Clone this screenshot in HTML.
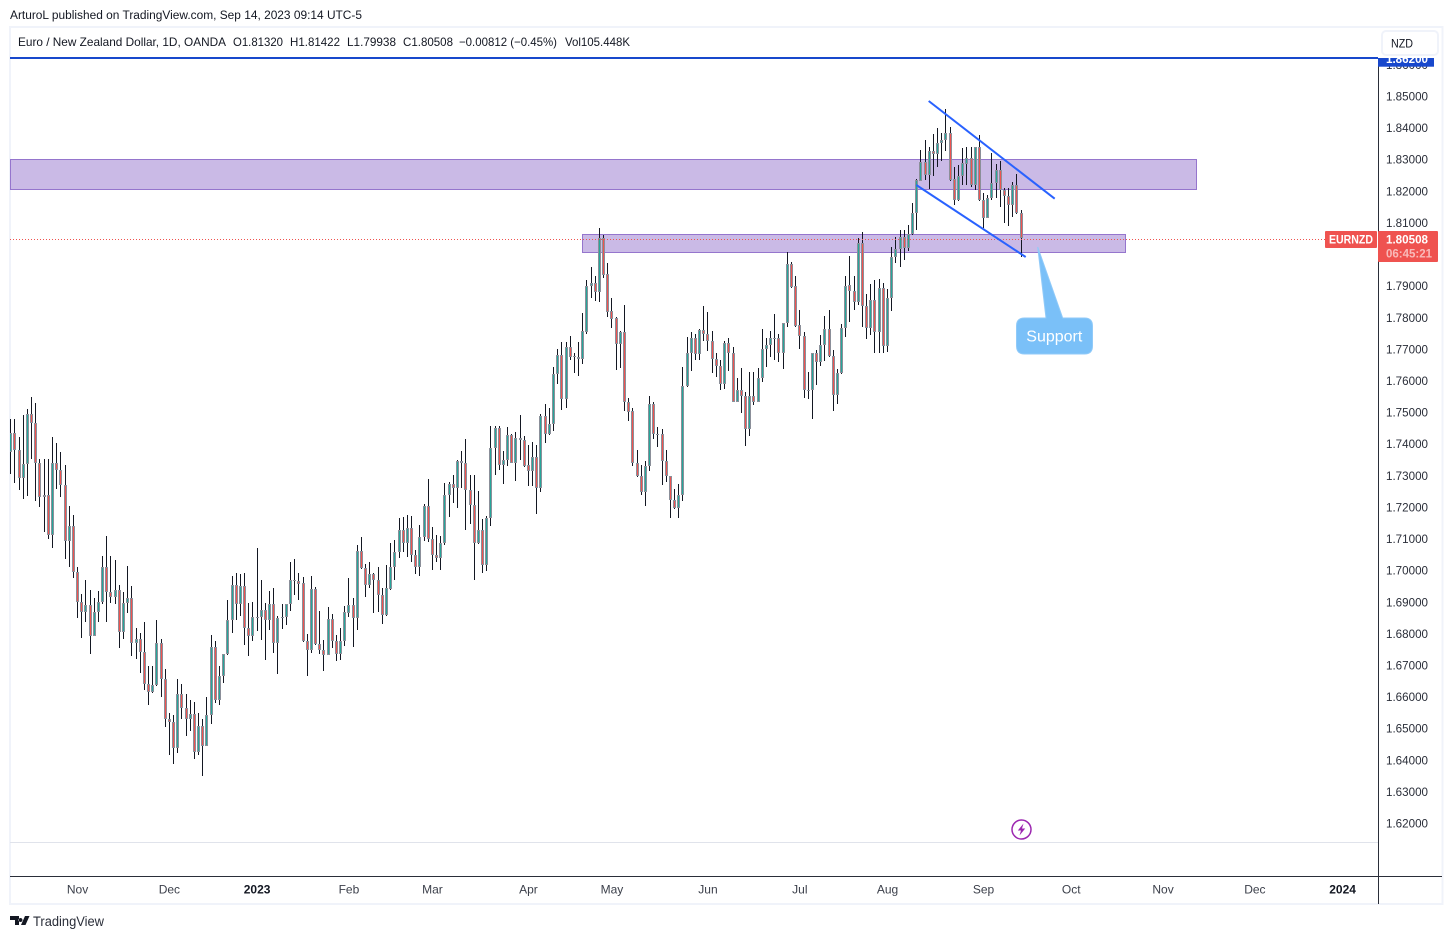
<!DOCTYPE html>
<html lang="en">
<head>
<meta charset="utf-8">
<title>EURNZD chart</title>
<style>
html,body{margin:0;padding:0;background:#fff;}
svg{display:block;font-family:"Liberation Sans",sans-serif;}
</style>
</head>
<body>
<svg id="chart" xmlns="http://www.w3.org/2000/svg" width="1452" height="939" viewBox="0 0 1452 939">
  <defs>
    <clipPath id="pane-clip"><rect x="10" y="58" width="1368" height="784"/></clipPath>
    <clipPath id="axis-tag-clip"><rect x="1378" y="58" width="56" height="9"/></clipPath>
  </defs>
  <rect width="1452" height="939" fill="#ffffff"/>
  <text x="10" y="19" font-size="11.5" fill="#131722" textLength="352" lengthAdjust="spacingAndGlyphs">ArturoL published on TradingView.com, Sep 14, 2023 09:14 UTC-5</text>
  <rect x="10" y="27" width="1432.5" height="877" fill="none" stroke="#f0f3fa" stroke-width="2"/>

  <g font-size="12" fill="#131722">
    <text x="18" y="46" textLength="208" lengthAdjust="spacingAndGlyphs">Euro / New Zealand Dollar, 1D, OANDA</text>
    <text x="233" y="46" textLength="50" lengthAdjust="spacingAndGlyphs">O1.81320</text>
    <text x="290" y="46" textLength="50" lengthAdjust="spacingAndGlyphs">H1.81422</text>
    <text x="347" y="46" textLength="49" lengthAdjust="spacingAndGlyphs">L1.79938</text>
    <text x="403" y="46" textLength="50" lengthAdjust="spacingAndGlyphs">C1.80508</text>
    <text x="459" y="46" textLength="98" lengthAdjust="spacingAndGlyphs">−0.00812 (−0.45%)</text>
    <text x="565" y="46" textLength="65" lengthAdjust="spacingAndGlyphs">Vol105.448K</text>
  </g>

  <g id="pane" clip-path="url(#pane-clip)">
    <rect x="10.5" y="159.5" width="1186" height="30" fill="#9575cd" fill-opacity="0.5" stroke="#9575cd" stroke-width="1"/>
    <rect x="582.5" y="234.5" width="543" height="18" fill="#9575cd" fill-opacity="0.5" stroke="#9575cd" stroke-width="1"/>
    <g id="candles"></g>
    <line id="last-price-line" x1="10" x2="1325" stroke="#ef5350" stroke-width="1" stroke-dasharray="1 2"/>
    <line x1="928.7" y1="101" x2="1054.7" y2="198.7" stroke="#2962ff" stroke-width="2"/>
    <line x1="916.3" y1="185" x2="1025.7" y2="257" stroke="#2962ff" stroke-width="2"/>
    <path d="M1024.5 318H1046L1037.7 247L1062.7 318H1084.5Q1092.5 318 1092.5 326V346Q1092.5 354 1084.5 354H1024.5Q1016.5 354 1016.5 346V326Q1016.5 318 1024.5 318Z" fill="#2196f3" fill-opacity="0.6" stroke="#90caf9" stroke-width="1"/>
    <text x="1054.3" y="341.5" font-size="16" fill="#ffffff" text-anchor="middle" textLength="56" lengthAdjust="spacingAndGlyphs">Support</text>
    <g>
      <circle cx="1021.5" cy="829.5" r="9.5" fill="#ffffff" stroke="#9c27b0" stroke-width="1.5"/>
      <path d="M1023.5 823.5L1017.8 830.5H1021L1019.5 835.5L1025.2 828.5H1022Z" fill="#9c27b0"/>
    </g>
  </g>

  <line x1="10" y1="842.5" x2="1378" y2="842.5" stroke="#e0e3eb"/>
  <line x1="10" y1="876.5" x2="1442" y2="876.5" stroke="#2a2e39"/>
  <line x1="1378.5" y1="58" x2="1378.5" y2="904" stroke="#2a2e39"/>
  <line x1="10" y1="58" x2="1378" y2="58" stroke="#1848cc" stroke-width="2"/>

  <g id="price-ticks"></g>
  <g id="time-ticks"></g>

  <rect x="1378" y="58" width="56" height="8.7" fill="#1848cc"/>
  <text clip-path="url(#axis-tag-clip)" x="1386" y="63" font-size="12" font-weight="bold" fill="#ffffff" textLength="42" lengthAdjust="spacingAndGlyphs">1.86200</text>

  <rect x="1382" y="31" width="56" height="24" rx="4" fill="#ffffff" stroke="#f0f3fa" stroke-width="2"/>
  <text x="1391" y="47.5" font-size="12" fill="#131722" textLength="22" lengthAdjust="spacingAndGlyphs">NZD</text>

  <rect x="1325" y="231" width="52" height="17" rx="1" fill="#ef5350"/>
  <text x="1351" y="243.5" font-size="12" font-weight="bold" fill="#ffffff" text-anchor="middle" textLength="44" lengthAdjust="spacingAndGlyphs">EURNZD</text>
  <rect x="1378" y="231" width="60" height="31" rx="1" fill="#ef5350"/>
  <text x="1386" y="243.5" font-size="12" font-weight="bold" fill="#ffffff" textLength="42" lengthAdjust="spacingAndGlyphs">1.80508</text>
  <text x="1386" y="257.5" font-size="12" font-weight="bold" fill="#ffffff" fill-opacity="0.6" textLength="46" lengthAdjust="spacingAndGlyphs">06:45:21</text>

  <g>
    <path d="M10 916H19V925H15V920H10ZM20.5 918a2 2 0 1 0 .01 0ZM25 916H29.5L25.5 925H21Z" fill="#131722"/>
    <text x="33" y="926" font-size="13.5" fill="#2a2e39" textLength="71" lengthAdjust="spacingAndGlyphs">TradingView</text>
  </g>
</svg>
<script>
const opens = [
1.7374,1.7435,1.7381,1.7294,1.7336,1.7494,1.7466,1.7339,1.7234,1.7238,
1.7114,1.7339,1.7317,1.7272,1.7094,1.7140,1.6997,1.6901,1.6870,1.6892,
1.6794,1.6868,1.6901,1.7010,1.6933,1.6917,1.6940,1.6806,1.6899,1.6912,
1.6772,1.6785,1.6743,1.6640,1.6617,1.6637,1.6770,1.6656,1.6532,1.6520,
1.6440,1.6611,1.6567,1.6532,1.6548,1.6427,1.6510,1.6446,1.6542,1.6757,
1.6592,1.6666,1.6735,1.6843,1.6956,1.6893,1.6953,1.6817,1.6794,1.6851,
1.6852,1.6877,1.6845,1.6896,1.6772,1.6849,1.6852,1.6896,1.6968,1.6968,
1.6960,1.6779,1.6750,1.6941,1.6769,1.6750,1.6734,1.6846,1.6778,1.6737,
1.6776,1.6867,1.6890,1.6851,1.7061,1.7007,1.6955,1.6988,1.6972,1.6922,
1.6859,1.6942,1.7013,1.7058,1.7130,1.7086,1.7134,1.7051,1.7013,1.7108,
1.7203,1.7099,1.7051,1.7039,1.7086,1.7238,1.7273,1.7263,1.7346,1.7339,
1.7254,1.7209,1.7089,1.7130,1.7017,1.7168,1.7387,1.7450,1.7333,1.7349,
1.7428,1.7342,1.7421,1.7412,1.7333,1.7314,1.7358,1.7263,1.7488,1.7431,
1.7463,1.7621,1.7681,1.7542,1.7706,1.7678,1.7675,1.7671,1.7756,1.7902,
1.7909,1.7880,1.8051,1.7937,1.7820,1.7798,1.7718,1.7754,1.7532,1.7504,
1.7342,1.7298,1.7250,1.7330,1.7526,1.7430,1.7431,1.7346,1.7301,1.7222,
1.7197,1.7238,1.7583,1.7690,1.7735,1.7684,1.7760,1.7749,1.7725,1.7671,
1.7649,1.7589,1.7719,1.7690,1.7535,1.7570,1.7552,1.7449,1.7554,1.7535,
1.7611,1.7700,1.7713,1.7736,1.7735,1.7690,1.7785,1.7969,1.7899,1.7776,
1.7741,1.7569,1.7570,1.7690,1.7661,1.7713,1.7763,1.7678,1.7557,1.7624,
1.7769,1.7903,1.7886,1.7851,1.8036,1.7837,1.7768,1.7855,1.7754,1.7894,
1.7712,1.7862,1.7992,1.8018,1.8055,1.8020,1.8065,1.8131,1.8234,1.8292,
1.8253,1.8327,1.8319,1.8352,1.8362,1.8384,1.8238,1.8171,1.8247,1.8287,
1.8305,1.8220,1.8340,1.8171,1.8116,1.8178,1.8226,1.8268,1.8203,1.8184,
1.8157,1.8220,1.8132];
const highs = [
1.7480,1.7480,1.7423,1.7491,1.7511,1.7549,1.7530,1.7352,1.7353,1.7353,
1.7424,1.7403,1.7375,1.7333,1.7206,1.7175,1.7010,1.6925,1.6969,1.6940,
1.6915,1.6935,1.7045,1.7111,1.7045,1.7035,1.6956,1.6931,1.7016,1.6950,
1.6817,1.6804,1.6836,1.6697,1.6698,1.6845,1.6785,1.6690,1.6551,1.6542,
1.6656,1.6640,1.6611,1.6592,1.6583,1.6551,1.6530,1.6599,1.6795,1.6776,
1.6697,1.6735,1.6907,1.6982,1.6991,1.6988,1.6994,1.6899,1.6902,1.7073,
1.6972,1.6899,1.6937,1.6944,1.6858,1.6894,1.6896,1.7026,1.7038,1.6994,
1.6980,1.6799,1.6982,1.6947,1.6872,1.6780,1.6885,1.6862,1.6796,1.6818,
1.6888,1.6976,1.6912,1.7081,1.7108,1.7020,1.7026,1.6994,1.7010,1.6944,
1.7017,1.7089,1.7097,1.7168,1.7169,1.7175,1.7173,1.7065,1.7143,1.7211,
1.7289,1.7138,1.7112,1.7110,1.7276,1.7279,1.7304,1.7349,1.7377,1.7418,
1.7302,1.7304,1.7251,1.7162,1.7172,1.7459,1.7459,1.7459,1.7378,1.7453,
1.7431,1.7440,1.7491,1.7425,1.7399,1.7406,1.7399,1.7497,1.7526,1.7513,
1.7644,1.7700,1.7722,1.7722,1.7741,1.7687,1.7722,1.7815,1.7921,1.7960,
1.7932,1.8084,1.8062,1.7973,1.7864,1.7801,1.7757,1.7840,1.7546,1.7516,
1.7381,1.7334,1.7346,1.7554,1.7532,1.7454,1.7447,1.7381,1.7301,1.7257,
1.7273,1.7644,1.7739,1.7754,1.7750,1.7763,1.7837,1.7818,1.7757,1.7687,
1.7666,1.7725,1.7735,1.7706,1.7609,1.7640,1.7565,1.7627,1.7630,1.7640,
1.7766,1.7735,1.7757,1.7811,1.7750,1.7785,1.8007,1.7978,1.7932,1.7824,
1.7754,1.7628,1.7690,1.7697,1.7747,1.7807,1.7824,1.7697,1.7637,1.7779,
1.7931,1.7996,1.7933,1.8052,1.8071,1.7876,1.7907,1.7921,1.7922,1.7911,
1.7890,1.8025,1.8057,1.8078,1.8078,1.8094,1.8162,1.8238,1.8330,1.8362,
1.8340,1.8382,1.8400,1.8384,1.8460,1.8403,1.8276,1.8282,1.8336,1.8340,
1.8340,1.8340,1.8378,1.8194,1.8189,1.8321,1.8287,1.8296,1.8210,1.8210,
1.8228,1.8255,1.81422];
const lows = [
1.7306,1.7278,1.7256,1.7228,1.7236,1.7353,1.7220,1.7201,1.7122,1.7100,
1.7072,1.7258,1.7233,1.7036,1.7011,1.6976,1.6850,1.6786,1.6837,1.6736,
1.6793,1.6837,1.6894,1.6837,1.6899,1.6894,1.6755,1.6783,1.6866,1.6729,
1.6720,1.6676,1.6622,1.6574,1.6612,1.6635,1.6600,1.6506,1.6416,1.6388,
1.6423,1.6531,1.6476,1.6493,1.6404,1.6416,1.6350,1.6446,1.6516,1.6582,
1.6576,1.6644,1.6733,1.6802,1.6843,1.6855,1.6764,1.6729,1.6777,1.6810,
1.6780,1.6717,1.6812,1.6739,1.6673,1.6815,1.6829,1.6873,1.6922,1.6907,
1.6774,1.6667,1.6740,1.6764,1.6737,1.6683,1.6733,1.6756,1.6715,1.6718,
1.6762,1.6854,1.6759,1.6813,1.7005,1.6917,1.6946,1.6866,1.6869,1.6832,
1.6857,1.6940,1.6970,1.7040,1.7060,1.7043,1.7027,1.6990,1.6983,1.7094,
1.7091,1.7003,1.7028,1.7003,1.7081,1.7170,1.7215,1.7199,1.7262,1.7128,
1.7148,1.6971,1.7085,1.6994,1.6999,1.7141,1.7302,1.7318,1.7275,1.7332,
1.7341,1.7283,1.7350,1.7329,1.7269,1.7269,1.7180,1.7249,1.7405,1.7428,
1.7443,1.7591,1.7508,1.7516,1.7666,1.7625,1.7617,1.7653,1.7748,1.7861,
1.7852,1.7850,1.7926,1.7804,1.7767,1.7634,1.7641,1.7505,1.7473,1.7331,
1.7296,1.7238,1.7204,1.7315,1.7418,1.7391,1.7271,1.7280,1.7166,1.7196,
1.7166,1.7220,1.7581,1.7631,1.7666,1.7666,1.7726,1.7694,1.7624,1.7612,
1.7571,1.7574,1.7631,1.7533,1.7532,1.7498,1.7394,1.7426,1.7524,1.7533,
1.7597,1.7644,1.7675,1.7666,1.7660,1.7638,1.7771,1.7893,1.7771,1.7701,
1.7546,1.7543,1.7479,1.7587,1.7647,1.7662,1.7676,1.7505,1.7527,1.7622,
1.7739,1.7788,1.7825,1.7841,1.7770,1.7734,1.7744,1.7690,1.7688,1.7688,
1.7693,1.7820,1.7973,1.7960,1.7983,1.8010,1.8062,1.8078,1.8232,1.8236,
1.8207,1.8250,1.8278,1.8297,1.8329,1.8234,1.8157,1.8168,1.8220,1.8220,
1.8215,1.8205,1.8168,1.8083,1.8115,1.8173,1.8178,1.8152,1.8101,1.8089,
1.8118,1.8129,1.79938];
const closes = [
1.7435,1.7381,1.7294,1.7336,1.7494,1.7466,1.7339,1.7234,1.7238,1.7114,
1.7339,1.7317,1.7272,1.7094,1.7140,1.6997,1.6901,1.6870,1.6892,1.6794,
1.6868,1.6902,1.7010,1.6933,1.6917,1.6940,1.6806,1.6899,1.6912,1.6772,
1.6785,1.6743,1.6640,1.6617,1.6637,1.6770,1.6656,1.6532,1.6520,1.6440,
1.6611,1.6567,1.6532,1.6548,1.6427,1.6510,1.6446,1.6542,1.6757,1.6592,
1.6666,1.6735,1.6843,1.6956,1.6893,1.6953,1.6817,1.6794,1.6852,1.6853,
1.6877,1.6845,1.6896,1.6772,1.6849,1.6852,1.6896,1.6972,1.6972,1.6959,
1.6777,1.6750,1.6941,1.6769,1.6750,1.6734,1.6846,1.6778,1.6737,1.6776,
1.6868,1.6890,1.6851,1.7061,1.7007,1.6955,1.6988,1.6971,1.6922,1.6860,
1.6944,1.7013,1.7058,1.7130,1.7086,1.7134,1.7051,1.7013,1.7108,1.7203,
1.7099,1.7051,1.7039,1.7086,1.7238,1.7273,1.7263,1.7346,1.7339,1.7254,
1.7209,1.7089,1.7130,1.7017,1.7168,1.7387,1.7450,1.7333,1.7349,1.7428,
1.7342,1.7421,1.7412,1.7332,1.7314,1.7358,1.7263,1.7488,1.7431,1.7463,
1.7621,1.7681,1.7542,1.7706,1.7677,1.7675,1.7670,1.7757,1.7902,1.7909,
1.7880,1.8051,1.7936,1.7819,1.7797,1.7718,1.7754,1.7532,1.7503,1.7342,
1.7298,1.7250,1.7330,1.7526,1.7431,1.7431,1.7346,1.7301,1.7222,1.7197,
1.7238,1.7583,1.7690,1.7735,1.7684,1.7760,1.7749,1.7725,1.7671,1.7649,
1.7589,1.7719,1.7690,1.7535,1.7570,1.7552,1.7448,1.7554,1.7535,1.7611,
1.7700,1.7713,1.7735,1.7735,1.7690,1.7785,1.7969,1.7896,1.7774,1.7741,
1.7570,1.7570,1.7690,1.7661,1.7713,1.7763,1.7678,1.7557,1.7624,1.7769,
1.7902,1.7886,1.7851,1.8036,1.7836,1.7768,1.7855,1.7754,1.7894,1.7712,
1.7862,1.7992,1.8018,1.8055,1.8020,1.8065,1.8131,1.8236,1.8292,1.8253,
1.8327,1.8319,1.8352,1.8362,1.8384,1.8236,1.8171,1.8247,1.8289,1.8305,
1.8220,1.8340,1.8171,1.8116,1.8178,1.8226,1.8268,1.8203,1.8184,1.8157,
1.8220,1.8131,1.80508];
const priceTickLabels = ["1.86000","1.85000","1.84000","1.83000","1.82000","1.81000","1.79000","1.78000","1.77000","1.76000","1.75000","1.74000","1.73000","1.72000","1.71000","1.70000","1.69000","1.68000","1.67000","1.66000","1.65000","1.64000","1.63000","1.62000"];
const timeTickLabels = ["Nov","Dec","2023","Feb","Mar","Apr","May","Jun","Jul","Aug","Sep","Oct","Nov","Dec","2024"];
const timeTickBars = [16,38,59,81,101,124,144,167,189,210,233,254,276,298,319];

const SVG_NS = "http://www.w3.org/2000/svg";
function xScale(i) { return 10.75 + 4.175 * i; }
function xPixel(i) { return Math.floor(xScale(i)) + 0.5; }
function yScale(p) { return 96.5 + (1.85 - p) * 3161; }

function make(tag, parent, attrs) {
  const el = document.createElementNS(SVG_NS, tag);
  for (const k in attrs) el.setAttribute(k, attrs[k]);
  parent.appendChild(el);
  return el;
}

const candleGroup = document.getElementById("candles");
closes.forEach(function (c, i) {
  const x = xPixel(i);
  const o = opens[i];
  const top = Math.round(yScale(Math.max(o, c)));
  const bottom = Math.max(Math.round(yScale(Math.min(o, c))), top + 1);
  const wick = make("rect", candleGroup, { x: x - 0.5, y: Math.round(yScale(highs[i])), width: 1, height: Math.max(1, Math.round(yScale(lows[i])) - Math.round(yScale(highs[i]))), fill: "#131722" });
  
  
  const body = make("rect", candleGroup, { x: x - 1.5, y: top, width: 3, height: bottom - top, fill: "#8b8f99" });
  
  
  const core = make("rect", candleGroup, { x: x - 0.5, y: top + 1, width: 1, height: Math.max(0, bottom - top - 2), fill: c >= o ? "#26a69a" : "#ef5350" });
  
  
});

const lastY = Math.ceil(yScale(closes[closes.length - 1])) + 0.5;
const lastLine = document.getElementById("last-price-line");
lastLine.setAttribute("y1", lastY);
lastLine.setAttribute("y2", lastY);

const priceGroup = document.getElementById("price-ticks");
priceTickLabels.forEach(function (label) {
  const t = make("text", priceGroup, { x: 1386, y: yScale(parseFloat(label)) + 4, "font-size": 12, fill: "#2a2e39", textLength: 42, lengthAdjust: "spacingAndGlyphs" });
  t.textContent = label;
  
  
});

const timeGroup = document.getElementById("time-ticks");
timeTickLabels.forEach(function (label, i) {
  const isYear = /^\d+$/.test(label);
  const t = make("text", timeGroup, { x: xScale(timeTickBars[i]), y: 893.5, "font-size": 12, "text-anchor": "middle", fill: isYear ? "#131722" : "#3c404b", "font-weight": isYear ? "bold" : "normal" });
  t.textContent = label;
  
  
});
</script>
</body>
</html>
